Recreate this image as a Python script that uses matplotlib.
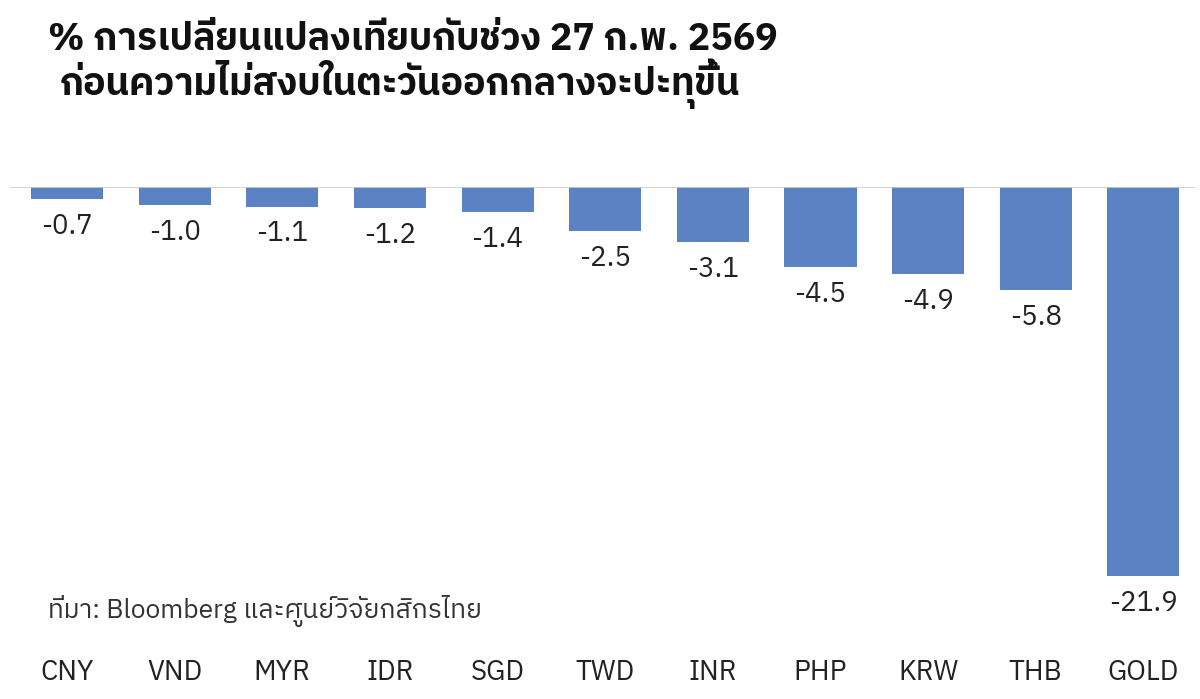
import matplotlib
matplotlib.use("Agg")
import matplotlib.pyplot as plt
from matplotlib import font_manager as fm
import matplotlib.transforms as mt

names = sorted({f.name for f in fm.fontManager.ttflist})
thai = [n for n in names if 'Thai' in n or 'Loma' in n or 'Garuda' in n or 'Sarabun' in n]
fams = thai + ['Noto Sans', 'DejaVu Sans']
plt.rcParams['font.family'] = fams

categories = ["CNY", "VND", "MYR", "IDR", "SGD", "TWD", "INR", "PHP", "KRW", "THB", "GOLD"]
values = [-0.7, -1.0, -1.1, -1.2, -1.4, -2.5, -3.1, -4.5, -4.9, -5.8, -21.9]
title1 = "% การเปลี่ยนแปลงเทียบกับช่วง 27 ก.พ. 2569"
title2 = "ก่อนความไม่สงบในตะวันออกกลางจะปะทุขึ้น"
source = "ที่มา: Bloomberg และศูนย์วิจัยกสิกรไทย"

fig = plt.figure(figsize=(12, 6.99), dpi=100)
ax = fig.add_axes([10/1200, 1-690/699, 1185/1200, (690-187)/699])
x = list(range(len(categories)))
ax.bar(x, values, width=0.67, color="#5b82c2")
ax.set_xlim(-0.53, 10.48)
ax.set_ylim(-(690-187)/17.76, 0)
ax.axhline(0, color="#cccccc", lw=1.2)
for s in ax.spines.values():
    s.set_visible(False)
ax.set_xticks([]); ax.set_yticks([])
for xi, v in zip(x, values):
    ax.annotate(f"{v:.1f}", (xi, v), xytext=(0, -10), textcoords="offset points",
                ha="center", va="top", fontsize=20, color="#222222")
tr = mt.blended_transform_factory(ax.transData, fig.transFigure)
for xi, c in zip(x, categories):
    ax.text(xi, 1-673/699, c, transform=tr, ha="center", va="center", fontsize=20, color="#222222")
fig.text(48/1200, 1-40/699, title1, ha="left", va="center", fontsize=27, fontweight="bold", color="#111111")
fig.text(60/1200, 1-84/699, title2, ha="left", va="center", fontsize=27, fontweight="bold", color="#111111")
fig.text(48/1200, 1-611/699, source, ha="left", va="center", fontsize=19, color="#333333")
fig.savefig("out.png", dpi=100, facecolor="white")
